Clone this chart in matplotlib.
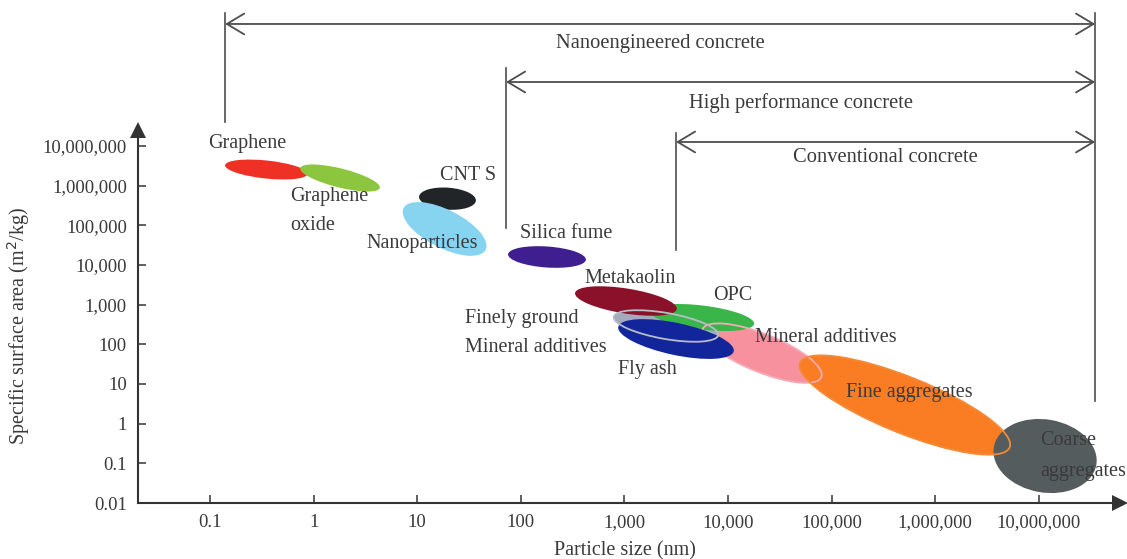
import numpy as np
import matplotlib
matplotlib.use("Agg")
import matplotlib.pyplot as plt
from matplotlib.collections import EllipseCollection
from matplotlib.transforms import blended_transform_factory

# ---------------- data ----------------
materials = ["Graphene", "Graphene oxide", "CNT S", "Nanoparticles", "Silica fume",
             "Metakaolin", "OPC", "Finely ground Mineral additives", "Fly ash",
             "Mineral additives", "Fine aggregates", "Coarse aggregates"]
particle_size_nm = [0.35, 1.8, 19.6, 18.4, 179, 1035, 5610, 2520, 3150, 21300, 5.1e5, 1.15e7]
surface_area_m2kg = [2.55e6, 1.56e6, 4.7e5, 8.1e4, 1.59e4, 1236, 474, 290, 136, 60, 2.95, 0.153]
label_texts = ["Graphene", "Graphene\noxide", "CNT S", "Nanoparticles", "Silica fume",
               "Metakaolin", "OPC", "Finely ground\nMineral additives", "Fly ash",
               "Mineral additives", "Fine aggregates", "Coarse\naggregates"]

concrete_types = ["Nanoengineered concrete", "High performance concrete", "Conventional concrete"]
concrete_min_nm = [0.14, 72, 3150]
concrete_max_nm = [3.5e7, 3.5e7, 3.5e7]

x_ticks = [0.1, 1, 10, 100, 1e3, 1e4, 1e5, 1e6, 1e7]
x_tick_labels = ["0.1", "1", "10", "100", "1,000", "10,000", "100,000", "1,000,000", "10,000,000"]
y_ticks = [0.01, 0.1, 1, 10, 100, 1e3, 1e4, 1e5, 1e6, 1e7]
y_tick_labels = ["0.01", "0.1", "1", "10", "100", "1,000", "10,000", "100,000", "1,000,000", "10,000,000"]

# ---------------- styles ----------------
ell_w = [83, 82, 57, 92, 78, 103, 105, 106, 118, 128, 226, 104]   # pixels
ell_h = [18, 19, 22, 38, 21, 25, 24, 26, 32, 38, 56, 73]
ell_ang = [-6, -14, -4, -27, -4, -9, -7, -10, -12, -22, -22, -10]
ell_col = ["#ee3124", "#8cc63e", "#222528", "#86d4f0", "#3f1f8f", "#8a1129", "#3ab54a",
           "#a3abbd", "#12259a", "#f7919e", "#fb7d23", "#545c5d"]
ell_z = [2, 3, 2, 3, 2, 3.5, 3, 2.1, 4, 2, 3, 4]
outline_col = {7: "#b7bcc8", 9: "#f6aab5", 10: "#f28a36"}
outline_z = {7: 5, 9: 3.8, 10: 5}
label_off = [(-58, 26.5), (-50, -33), (-7.5, 23.5), (-78.5, -15), (-27, 24), (-42, 23),
             (11, 22.5), (-201, -7), (-58, -30), (-7, 16), (-59, 13), (-5, 0)]
label_ls = [1.3, 1.65, 1.3, 1.3, 1.3, 1.3, 1.3, 1.65, 1.3, 1.3, 1.3, 1.9]

text_col = "#3a3a3a"
line_col = "#4d4d4d"
plt.rcParams['font.family'] = ['Liberation Serif', 'DejaVu Serif']

fig = plt.figure(figsize=(11.27, 5.59), dpi=100)
ax = fig.add_axes([138 / 1127, 56 / 559, 982 / 1127, 373 / 559])
ax.set_xscale('log')
ax.set_yscale('log')

for i in range(len(materials)):
    ec = EllipseCollection([ell_w[i]], [ell_h[i]], [ell_ang[i]], units='dots',
                           offsets=[(particle_size_nm[i], surface_area_m2kg[i])],
                           offset_transform=ax.transData,
                           facecolors=ell_col[i], edgecolors='none', zorder=ell_z[i])
    ax.add_collection(ec, autolim=False)
    if i in outline_col:
        eo = EllipseCollection([ell_w[i]], [ell_h[i]], [ell_ang[i]], units='dots',
                               offsets=[(particle_size_nm[i], surface_area_m2kg[i])],
                               offset_transform=ax.transData,
                               facecolors='none', edgecolors=outline_col[i],
                               linewidths=1.3, zorder=outline_z[i])
        ax.add_collection(eo, autolim=False)
    ax.annotate(label_texts[i], xy=(particle_size_nm[i], surface_area_m2kg[i]),
                xytext=label_off[i], textcoords='offset pixels', ha='left', va='center',
                fontsize=14.5, color=text_col, zorder=6, linespacing=label_ls[i],
                annotation_clip=False)

ax.set_xlim(10 ** -1.695, 10 ** 7.784)
ax.set_ylim(0.01, 10 ** 7.403)
ax.set_xticks(x_ticks, labels=x_tick_labels)
ax.set_yticks(y_ticks, labels=y_tick_labels)
ax.minorticks_off()
ax.tick_params(axis='both', direction='in', length=6, width=1.2, color='#444',
               labelsize=13.5, labelcolor=text_col)
ax.tick_params(axis='x', pad=8)
ax.tick_params(axis='y', pad=8)
for s in ['top', 'right']:
    ax.spines[s].set_visible(False)
for s in ['left', 'bottom']:
    ax.spines[s].set_color('#333333')
    ax.spines[s].set_linewidth(1.5)
ax.patch.set_alpha(0)
ax.plot([0], [1], marker='^', ms=11, color='#333333', mew=0, transform=ax.transAxes, clip_on=False)
ax.plot([1], [0], marker='>', ms=11, color='#333333', mew=0, transform=ax.transAxes, clip_on=False)

ax.set_ylabel("Specific surface area (m$^2$/kg)", fontsize=14.5, color=text_col)
ax.yaxis.set_label_coords(-0.108, 0.4745)
ax.set_xlabel("Particle size (nm)", fontsize=14.5, color=text_col)
ax.xaxis.set_label_coords(0.496, -0.102)

# ---------------- concrete ranges ----------------
trans = blended_transform_factory(ax.transData, fig.transFigure)
bracket_y = [0.9571, 0.8533, 0.7460]
bracket_top = [0.9767, 0.8784, 0.7621]
bracket_bottom = [0.7818, 0.5921, 0.5528]
text_y = [0.9213, 0.8157, 0.7174]
for name, lo, hi, yb, yt, ybot, ty in zip(concrete_types, concrete_min_nm, concrete_max_nm,
                                          bracket_y, bracket_top, bracket_bottom, text_y):
    ax.annotate('', xy=(hi, yb), xytext=(lo, yb), xycoords=trans, textcoords=trans,
                arrowprops=dict(arrowstyle='<->,head_length=1.25,head_width=0.75', lw=1.3,
                                color=line_col, shrinkA=0, shrinkB=0, mutation_scale=10),
                annotation_clip=False)
    ax.plot([lo, lo], [ybot, yt], transform=trans, color=line_col, lw=1.2, clip_on=False)
    ax.text(np.sqrt(lo * hi), ty, name, transform=trans, ha='center', va='center',
            fontsize=14.8, color=text_col)
ax.plot([concrete_max_nm[0]] * 2, [0.2826, 0.9767], transform=trans, color=line_col,
        lw=1.2, clip_on=False)

fig.savefig("out.png", dpi=100)
